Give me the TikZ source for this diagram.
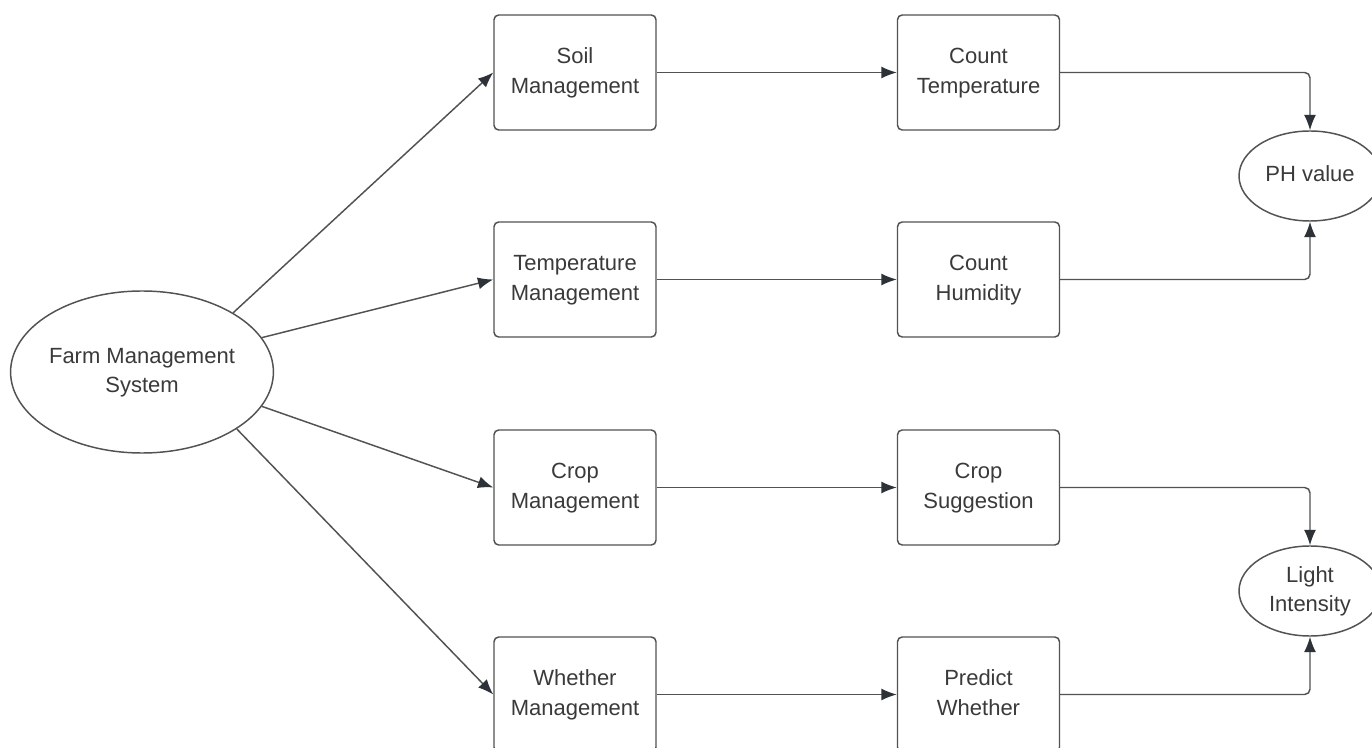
\documentclass[tikz,border=0pt]{standalone}
\usepackage{fontspec}
\setmainfont{Liberation Sans}
\usetikzlibrary{shapes.geometric,arrows.meta}
\definecolor{txt}{HTML}{3A3A3A}
\definecolor{edge}{HTML}{525252}
\definecolor{tip}{HTML}{2D3239}
\tikzset{
  base/.style={draw=edge, line width=1.1pt, text=txt, align=center, inner sep=0pt,
    font=\fontsize{16.5pt}{22pt}\selectfont},
  box/.style={base, rectangle, rounded corners=3.5pt, minimum width=121.5pt, minimum height=86.25pt},
  oval/.style={base, ellipse},
  conn/.style={draw=edge, line width=1.1pt, -{Latex[length=11.5pt,width=9pt,color=tip]}},
  elbowconn/.style={conn, rounded corners=4pt}
}
\begin{document}
\begin{tikzpicture}[x=0.75pt,y=-0.75pt]
\useasboundingbox (0,0) rectangle (1372,748);
\fill[white] (0,0) rectangle (1372,748);
\begin{scope}
\clip (0,0) rectangle (1372,748);
\node[oval, minimum width=196.5pt, minimum height=121.5pt] (farm) at (142,372) {\strut Farm Management\\\strut System};
\node[box] (soil) at (575,72.5) {\strut Soil\\\strut Management};
\node[box] (temp) at (575,279.5) {\strut Temperature\\\strut Management};
\node[box] (crop) at (575,487.5) {\strut Crop\\\strut Management};
\node[box] (wth) at (575,694.5) {\strut Whether\\\strut Management};
\node[box] (ctemp) at (978.5,72.5) {\strut Count\\\strut Temperature};
\node[box] (chum) at (978.5,279.5) {\strut Count\\\strut Humidity};
\node[box] (csug) at (978.5,487.5) {\strut Crop\\\strut Suggestion};
\node[box] (pw) at (978.5,694.5) {\strut Predict\\\strut Whether};
\node[oval, minimum width=106.5pt, minimum height=67.5pt] (ph) at (1310,176) {\strut PH value};
\node[oval, minimum width=106.5pt, minimum height=67.5pt] (li) at (1310,591) {\strut Light\\\strut Intensity};

\draw[conn] (farm.33) -- (soil.west);
\draw[conn] (farm.16) -- (temp.west);
\draw[conn] (farm.-16) -- (crop.west);
\draw[conn] (farm.-31) -- (wth.west);

\draw[conn] (soil.east) -- (ctemp.west);
\draw[conn] (temp.east) -- (chum.west);
\draw[conn] (crop.east) -- (csug.west);
\draw[conn] (wth.east) -- (pw.west);

\draw[elbowconn] (ctemp.east) -| (ph.north);
\draw[elbowconn] (chum.east) -| (ph.south);
\draw[elbowconn] (csug.east) -| (li.north);
\draw[elbowconn] (pw.east) -| (li.south);
\end{scope}
\end{tikzpicture}
\end{document}
